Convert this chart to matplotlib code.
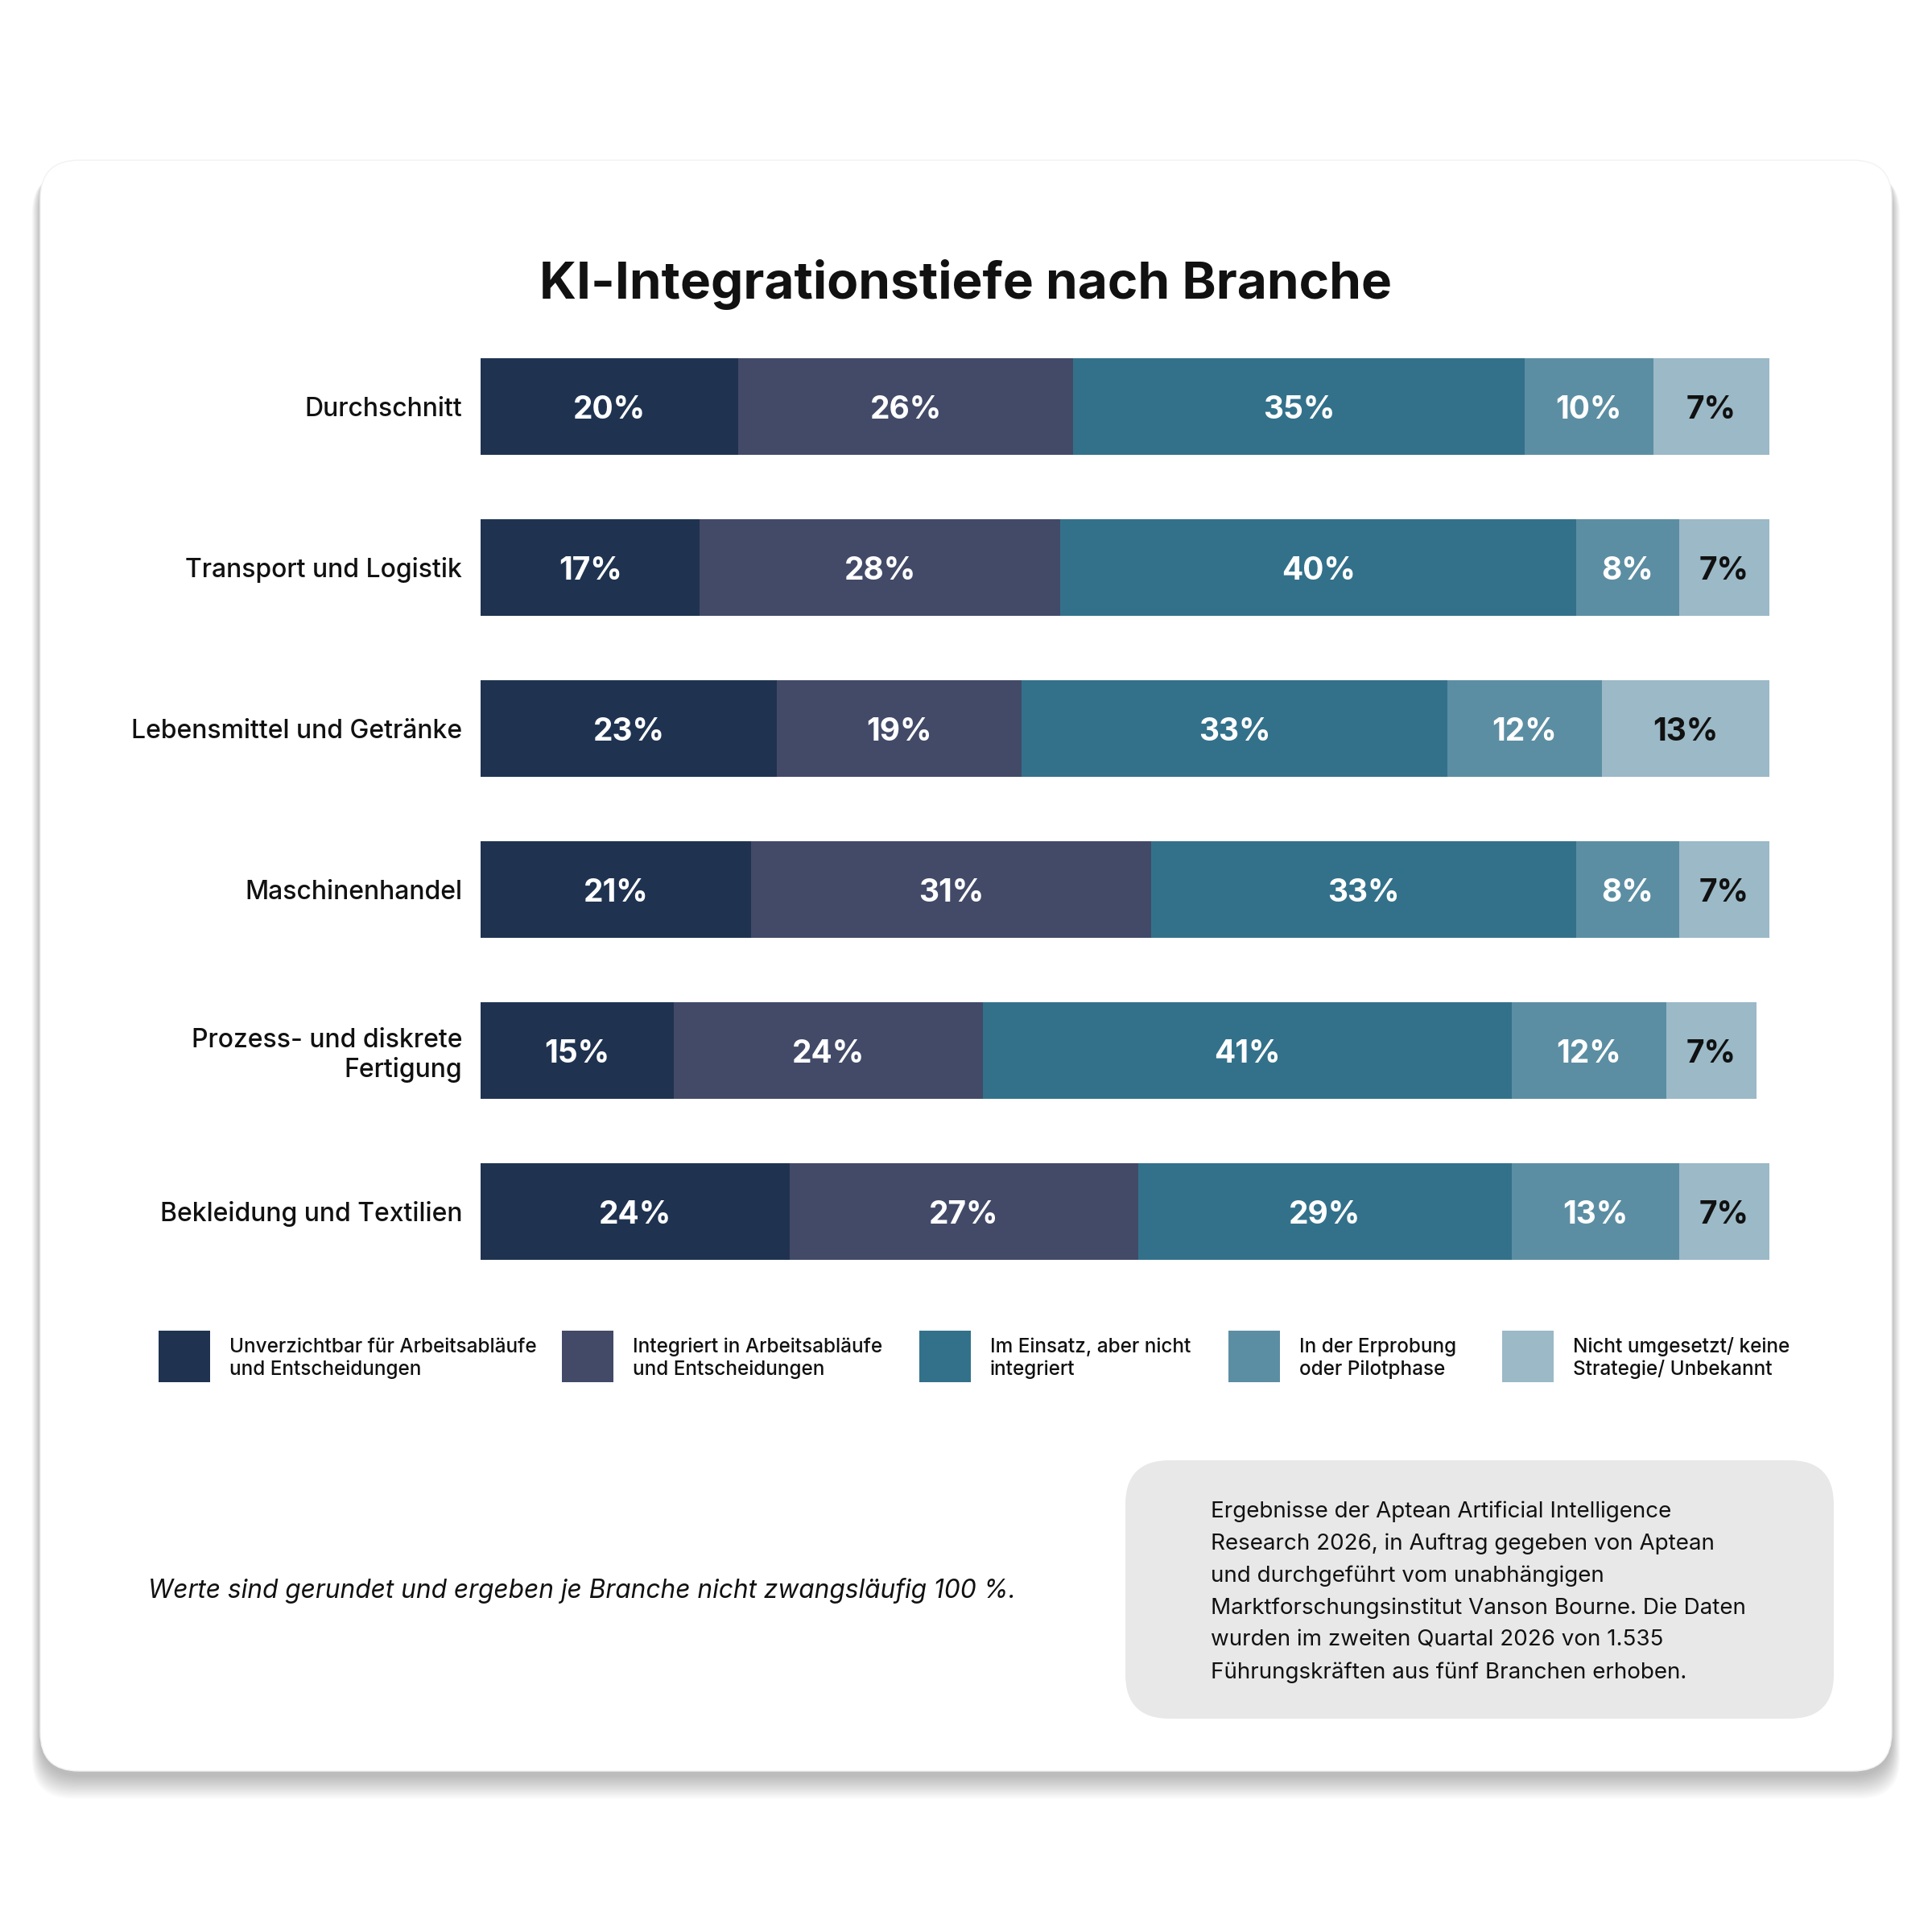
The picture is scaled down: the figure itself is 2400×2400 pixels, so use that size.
import matplotlib
matplotlib.use("Agg")
import matplotlib.pyplot as plt
from matplotlib.patches import FancyBboxPatch, Rectangle

plt.rcParams['font.family'] = ['Inter', 'DejaVu Sans']

# data
categories = ['Durchschnitt', 'Transport und Logistik', 'Lebensmittel und Getränke',
              'Maschinenhandel', 'Prozess- und diskrete\nFertigung', 'Bekleidung und Textilien']
unverzichtbar = [20, 17, 23, 21, 15, 24]
integriert = [26, 28, 19, 31, 24, 27]
im_einsatz = [35, 40, 33, 33, 41, 29]
erprobung = [10, 8, 12, 8, 12, 13]
nicht = [7, 7, 13, 7, 7, 7]
nicht_bar = [9, 7, 13, 7, 7, 7]   # drawn width (Durchschnitt bar is filled to the end)

series_labels = ['Unverzichtbar für Arbeitsabläufe\nund Entscheidungen',
                 'Integriert in Arbeitsabläufe\nund Entscheidungen',
                 'Im Einsatz, aber nicht\nintegriert',
                 'In der Erprobung\noder Pilotphase',
                 'Nicht umgesetzt/ keine\nStrategie/ Unbekannt']
colors = ['#1f3351', '#424a68', '#33718b', '#5c8ea3', '#9bb9c7']
text_colors = ['white', 'white', 'white', 'white', '#111111']

title = 'KI-Integrationstiefe nach Branche'
footnote = 'Werte sind gerundet und ergeben je Branche nicht zwangsläufig 100 %.'
source_lines = ['Ergebnisse der Aptean Artificial Intelligence',
                'Research 2026, in Auftrag gegeben von Aptean',
                'und durchgeführt vom unabhängigen',
                'Marktforschungsinstitut Vanson Bourne. Die Daten',
                'wurden im zweiten Quartal 2026 von 1.535',
                'Führungskräften aus fünf Branchen erhoben.']

fig = plt.figure(figsize=(24, 24), dpi=100)
fig.patch.set_facecolor('white')

# background layer in pixel coords
bg = fig.add_axes([0, 0, 1, 1], zorder=0)
bg.set_xlim(0, 2400)
bg.set_ylim(2400, 0)
bg.axis('off')

# card shadow
for i in range(14):
    bg.add_patch(FancyBboxPatch((50 - i * 0.8, 199 + 7 + i * 0.7), 2300 + i * 1.6, 2001 + i * 1.4,
                                boxstyle='round,pad=0,rounding_size=50',
                                fc='black', ec='none', alpha=0.02))
# card
bg.add_patch(FancyBboxPatch((50, 199), 2300, 2001, boxstyle='round,pad=0,rounding_size=48',
                            fc='white', ec='#f2f2f2', lw=1))

# title
bg.text(1200, 371, title, ha='center', va='baseline', fontsize=46, fontweight='bold', color='#111111')

# legend
leg_x = [197, 698, 1142, 1526, 1866]
for lx, lab, c in zip(leg_x, series_labels, colors):
    bg.add_patch(Rectangle((lx, 1653), 64, 64, fc=c, ec='none'))
    l1, l2 = lab.split('\n')
    bg.text(lx + 88, 1680, l1, ha='left', va='baseline', fontsize=17.5, fontweight=500, color='#111111')
    bg.text(lx + 88, 1708, l2, ha='left', va='baseline', fontsize=17.5, fontweight=500, color='#111111')

# footnote
bg.text(184, 1985, footnote, ha='left', va='baseline', fontsize=22.8, style='italic', color='#111111')

# source box
bg.add_patch(FancyBboxPatch((1398, 1814), 880, 321, boxstyle='round,pad=0,rounding_size=55',
                            fc='#e8e8e8', ec='none'))
for i, line in enumerate(source_lines):
    bg.text(1504, 1885 + i * 40, line, ha='left', va='baseline', fontsize=20, color='#111111')

# chart
ax = fig.add_axes([597 / 2400, 1 - 1605 / 2400, 1601 / 2400, 1200 / 2400], zorder=1)
ax.patch.set_alpha(0)
ypos = list(range(len(categories)))
series = [unverzichtbar, integriert, im_einsatz, erprobung, nicht_bar]
shown = [unverzichtbar, integriert, im_einsatz, erprobung, nicht]
left = [0] * len(categories)
for vals, labs, c, tc in zip(series, shown, colors, text_colors):
    ax.barh(ypos, vals, left=left, height=0.6, color=c, edgecolor='none')
    for y, l, v, s in zip(ypos, left, vals, labs):
        ax.text(l + v / 2, y, f'{s}%', ha='center', va='center_baseline', fontsize=28,
                fontweight='bold', color=tc)
    left = [a + b for a, b in zip(left, vals)]

ax.set_xlim(0, 100)
ax.set_ylim(len(categories) - 0.5, -0.5)
ax.set_yticks(ypos)
ax.set_yticklabels(categories, fontsize=23, fontweight=500, color='#111111')
ax.tick_params(axis='y', length=0, pad=16.5)
ax.set_xticks([])
for s in ax.spines.values():
    s.set_visible(False)

fig.savefig('out.png', dpi=100, facecolor='white')
